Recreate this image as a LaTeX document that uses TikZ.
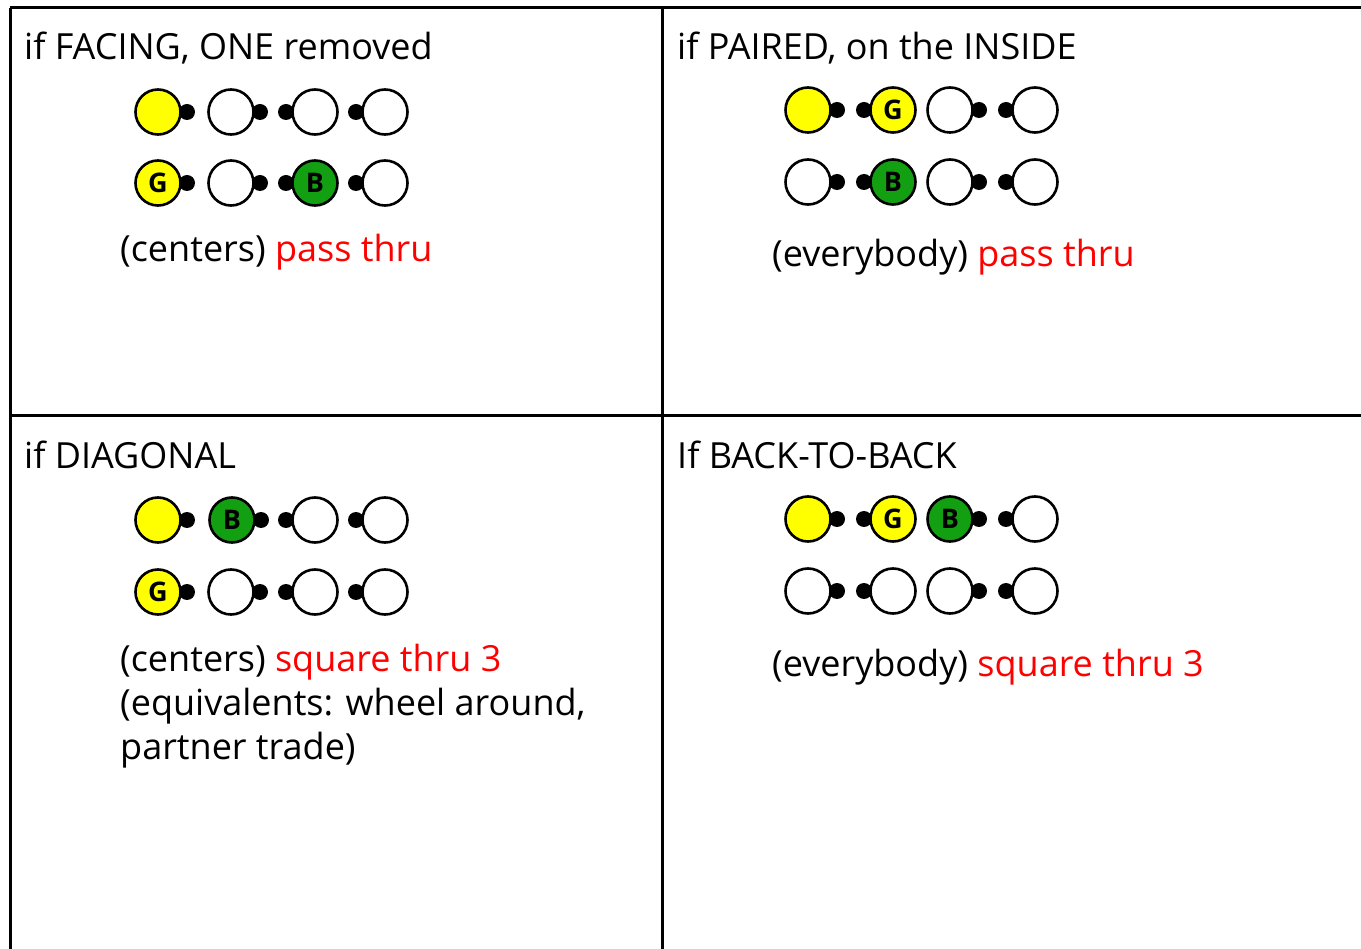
\documentclass[tikz,border=0pt]{standalone}
\usepackage{fontspec}
\setmainfont{Open Sans}
\definecolor{dyellow}{RGB}{255,255,0}
\definecolor{dgreen}{RGB}{18,160,18}
\definecolor{dred}{RGB}{255,0,0}
\newcommand\dancer[6]{%
  \node[nose] (#1n) at ({#2+29*(#6)},#3) {};
  \node[dancer, fill=#4] (#1) at (#2,#3) {#5};
}
\begin{document}
\begin{tikzpicture}[x=1pt,y=-1pt,
  grid/.style={line width=3pt},
  dancer/.style={circle,draw=black,line width=2.6pt,minimum size=45pt,inner sep=0pt,font=\fontsize{27}{27}\selectfont\bfseries},
  nose/.style={circle,fill=black,minimum size=16pt,inner sep=0pt},
  txt/.style={anchor=base west,inner sep=0pt,font=\fontsize{36}{42}\selectfont},
]
\useasboundingbox (0,0) rectangle (1361,949);
\fill[white] (0,0) rectangle (1361,949);
% grid
\coordinate (tl) at (10,8);
\coordinate (tr) at (1361,8);
\coordinate (ml) at (10,416);
\coordinate (mr) at (1361,416);
\coordinate (bl) at (10,949);
\coordinate (tm) at (662,8);
\coordinate (bm) at (662,949);
\draw[grid] (tl) -- (tr);
\draw[grid] (ml) -- (mr);
\draw[grid] (tl) -- (bl);
\draw[grid] (tm) -- (bm);
% texts
\node[txt] (h1) at (24,60) {if FACING, ONE removed};
\node[txt] (h2) at (677,60) {if PAIRED, on the INSIDE};
\node[txt] (h3) at (24,469) {if DIAGONAL};
\node[txt] (h4) at (677,469) {If BACK-TO-BACK};
\node[txt] (t1) at (120,262) {(centers) \textcolor{dred}{pass thru}};
\node[txt] (t2) at (772,267) {(everybody) \textcolor{dred}{pass thru}};
\node[txt] (t3) at (120,671) {(centers) \textcolor{dred}{square thru 3}};
\node[txt] (t3b) at (120,715) {(equivalents: wheel around,};
\node[txt] (t3c) at (120,759) {partner trade)};
\node[txt] (t4) at (772,676) {(everybody) \textcolor{dred}{square thru 3}};
% cell 1
\dancer{a1}{158}{112}{dyellow}{}{1}
\dancer{a2}{231}{112}{white}{}{1}
\dancer{a3}{315}{112}{white}{}{-1}
\dancer{a4}{385}{112}{white}{}{-1}
\dancer{a5}{158}{183}{dyellow}{G}{1}
\dancer{a6}{231}{183}{white}{}{1}
\dancer{a7}{315}{183}{dgreen}{B}{-1}
\dancer{a8}{385}{183}{white}{}{-1}
% cell 2
\dancer{b1}{808}{110}{dyellow}{}{1}
\dancer{b2}{893}{110}{dyellow}{G}{-1}
\dancer{b3}{950}{110}{white}{}{1}
\dancer{b4}{1035}{110}{white}{}{-1}
\dancer{b5}{808}{182}{white}{}{1}
\dancer{b6}{893}{182}{dgreen}{B}{-1}
\dancer{b7}{950}{182}{white}{}{1}
\dancer{b8}{1035}{182}{white}{}{-1}
% cell 3
\dancer{c1}{158}{520}{dyellow}{}{1}
\dancer{c2}{232}{520}{dgreen}{B}{1}
\dancer{c3}{315}{520}{white}{}{-1}
\dancer{c4}{385}{520}{white}{}{-1}
\dancer{c5}{158}{592}{dyellow}{G}{1}
\dancer{c6}{231}{592}{white}{}{1}
\dancer{c7}{315}{592}{white}{}{-1}
\dancer{c8}{385}{592}{white}{}{-1}
% cell 4
\dancer{d1}{808}{519}{dyellow}{}{1}
\dancer{d2}{893}{519}{dyellow}{G}{-1}
\dancer{d3}{950}{519}{dgreen}{B}{1}
\dancer{d4}{1035}{519}{white}{}{-1}
\dancer{d5}{808}{591}{white}{}{1}
\dancer{d6}{893}{591}{white}{}{-1}
\dancer{d7}{950}{591}{white}{}{1}
\dancer{d8}{1035}{591}{white}{}{-1}
\end{tikzpicture}
\end{document}
